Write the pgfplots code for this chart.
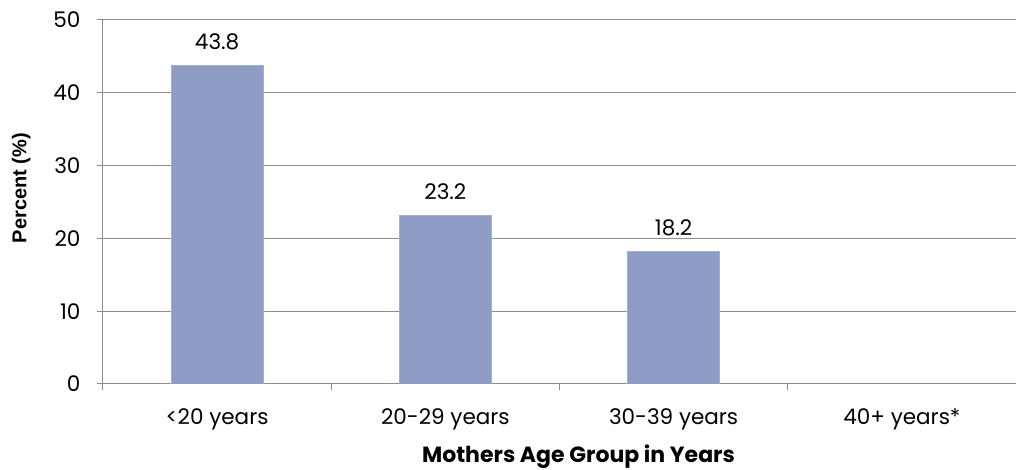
\documentclass[border=0pt]{standalone}
\usepackage{pgfplots}
\pgfplotsset{compat=1.18}
\usepackage{fontspec}
\setmainfont{Poppins}
\newfontfamily\arialfont{Liberation Sans}
\definecolor{barc}{RGB}{142,156,198}
\definecolor{gridc}{RGB}{140,140,140}
\begin{document}
\begin{tikzpicture}
\begin{axis}[
  at={(0pt,0pt)}, anchor=south west,
  scale only axis, width=913pt, height=364pt,
  xmin=-0.5, xmax=3.5, ymin=0, ymax=50,
  axis lines*=left,
  axis line style={gridc, line width=1pt},
  xtick={0,1,2,3},
  xticklabels={{<20 years},{20-29 years},{30-39 years},{40+ years*}},
  minor xtick={-0.5,0.5,1.5,2.5,3.5},
  major x tick style={draw=none},
  minor tick length=6pt,
  ytick={0,10,20,30,40,50},
  major tick length=6pt,
  tick align=outside,
  tick style={gridc, line width=1pt},
  ymajorgrids, grid style={gridc, line width=1pt},
  /pgf/number format/assume math mode=true,
  ticklabel style={font=\fontsize{21.5}{24}\selectfont, text=black},
  yticklabel style={xshift=-13pt},
  xticklabel style={yshift=-15pt},
  ylabel={\arialfont\bfseries Percent (\%)},
  ylabel style={font=\fontsize{20}{24}\selectfont, yshift=16pt, xshift=14pt},
  xlabel={\bfseries Mothers Age Group in Years},
  xlabel style={font=\fontsize{22}{26}\selectfont, xshift=19pt, yshift=-8pt},
  nodes near coords={\pgfmathprintnumber[fixed,fixed zerofill,precision=1]{\pgfplotspointmeta}},
  nodes near coords style={font=\fontsize{21.5}{24}\selectfont, text=black, yshift=12pt},
]
\addplot[ybar, bar width=92pt, fill=barc, draw=barc!80!white] coordinates {(0,43.8) (1,23.2) (2,18.2)};
\end{axis}
\pgfresetboundingbox
\path (-103pt,-86pt) rectangle (913pt,384pt);
\end{tikzpicture}
\end{document}
